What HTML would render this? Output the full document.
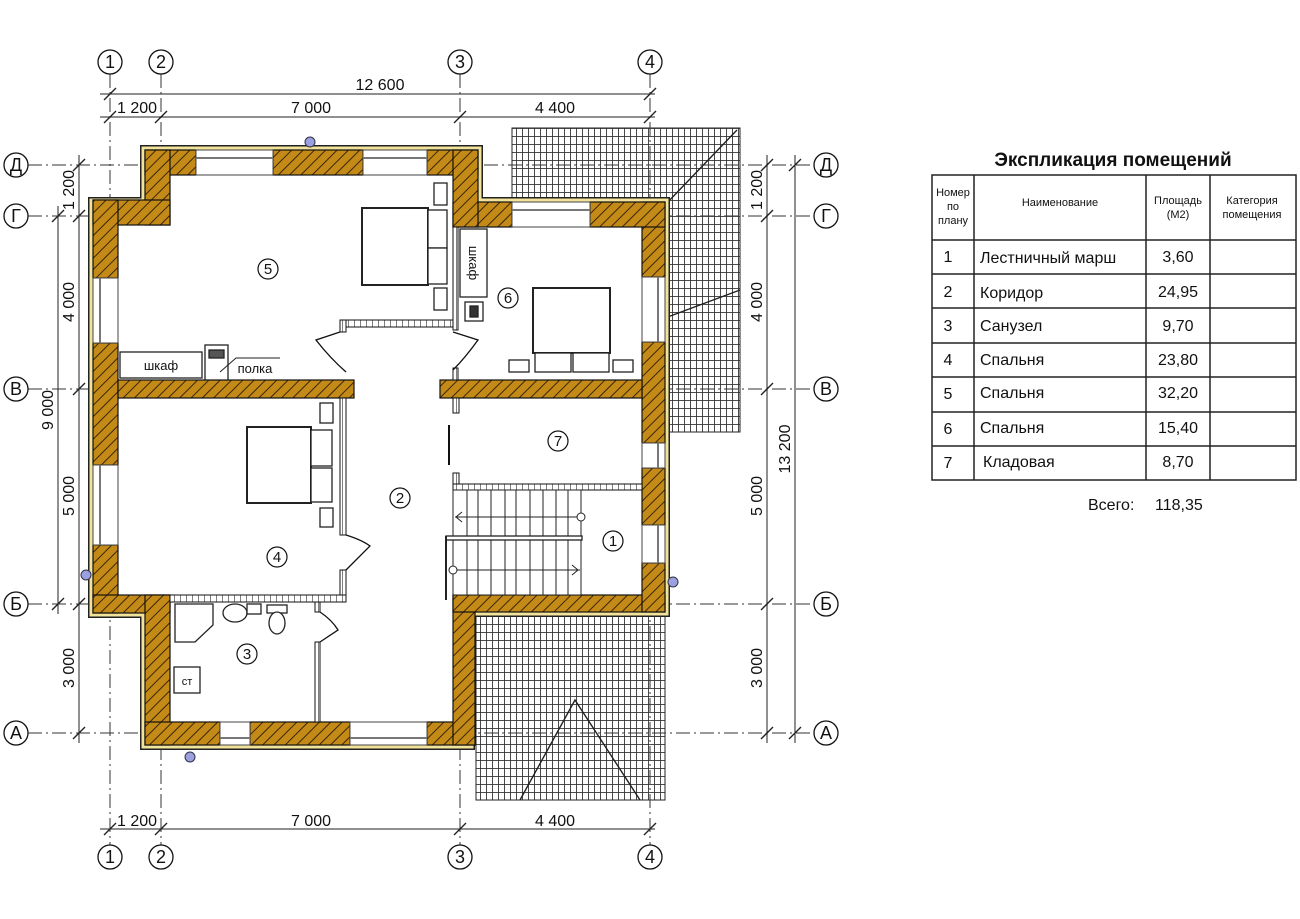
<!DOCTYPE html>
<html><head><meta charset="utf-8"><style>
html,body{margin:0;padding:0;background:#fff}
svg{display:block}
text{font-family:"Liberation Sans",sans-serif;fill:#111}
</style></head><body>
<svg width="1300" height="919" viewBox="0 0 1300 919" xmlns="http://www.w3.org/2000/svg">
<defs>
<pattern id="h" width="8" height="8" patternUnits="userSpaceOnUse" patternTransform="rotate(45)">
<rect width="8" height="8" fill="#c48a17"/><line x1="0" y1="0" x2="0" y2="8" stroke="#2a1a05" stroke-width="1.8"/>
</pattern>
<pattern id="t" width="6" height="8" patternUnits="userSpaceOnUse">
<rect width="6" height="8" fill="#fff"/><path d="M0 0H6M0 0V8" stroke="#333" stroke-width="1.8" fill="none"/>
</pattern>
<pattern id="tp" width="6" height="6" patternUnits="userSpaceOnUse">
<rect width="6" height="6" fill="#fff"/><path d="M0 0V6" stroke="#555" stroke-width="1.5"/>
</pattern>
</defs>

<!-- roof tiles -->
<g stroke="#222" stroke-width="1">
<polygon points="512,128 740,128 740,432 665,432 665,202 512,202" fill="url(#t)"/>
<rect x="476" y="612" width="189" height="188" fill="url(#t)"/>
</g>
<g stroke="#222" stroke-width="1.4" fill="none">
<line x1="737" y1="130" x2="665" y2="205"/>
<line x1="740" y1="290" x2="665" y2="318"/>
<polyline points="520,800 575,700 640,800"/>
</g>

<!-- axes -->
<g stroke="#333" stroke-width="1" stroke-dasharray="14 4 2 4" fill="none">
<line x1="110" y1="74" x2="110" y2="845"/>
<line x1="161" y1="74" x2="161" y2="845"/>
<line x1="460" y1="74" x2="460" y2="845"/>
<line x1="650" y1="74" x2="650" y2="845"/>
<line x1="28" y1="165" x2="814" y2="165"/>
<line x1="28" y1="216" x2="814" y2="216"/>
<line x1="28" y1="389" x2="814" y2="389"/>
<line x1="28" y1="604" x2="814" y2="604"/>
<line x1="28" y1="733" x2="814" y2="733"/>
</g>
<g fill="#fff" stroke="#111" stroke-width="1.3">
<circle cx="110" cy="62" r="12"/><circle cx="161" cy="62" r="12"/><circle cx="460" cy="62" r="12"/><circle cx="650" cy="62" r="12"/>
<circle cx="110" cy="857" r="12"/><circle cx="161" cy="857" r="12"/><circle cx="460" cy="857" r="12"/><circle cx="650" cy="857" r="12"/>
<circle cx="16" cy="165" r="12"/><circle cx="16" cy="216" r="12"/><circle cx="16" cy="389" r="12"/><circle cx="16" cy="604" r="12"/><circle cx="16" cy="733" r="12"/>
<circle cx="826" cy="165" r="12"/><circle cx="826" cy="216" r="12"/><circle cx="826" cy="389" r="12"/><circle cx="826" cy="604" r="12"/><circle cx="826" cy="733" r="12"/>
</g>
<g font-size="18" text-anchor="middle">
<text x="110" y="68">1</text><text x="161" y="68">2</text><text x="460" y="68">3</text><text x="650" y="68">4</text>
<text x="110" y="863">1</text><text x="161" y="863">2</text><text x="460" y="863">3</text><text x="650" y="863">4</text>
<text x="16" y="171">Д</text><text x="16" y="222">Г</text><text x="16" y="395">В</text><text x="16" y="610">Б</text><text x="16" y="739">А</text>
<text x="826" y="171">Д</text><text x="826" y="222">Г</text><text x="826" y="395">В</text><text x="826" y="610">Б</text><text x="826" y="739">А</text>
</g>

<!-- dimension lines -->
<g stroke="#222" stroke-width="1" fill="none">
<line x1="100" y1="94" x2="655" y2="94"/>
<line x1="100" y1="117" x2="655" y2="117"/>
<line x1="100" y1="829" x2="655" y2="829"/>
<line x1="79" y1="155" x2="79" y2="743"/>
<line x1="58" y1="206" x2="58" y2="614"/>
<line x1="767" y1="155" x2="767" y2="743"/>
<line x1="795" y1="155" x2="795" y2="743"/>
<g stroke-width="1.4">
<path d="M104 100l12-12M644 100l12-12M104 123l12-12M155 123l12-12M454 123l12-12M644 123l12-12"/>
<path d="M104 835l12-12M155 835l12-12M454 835l12-12M644 835l12-12"/>
<path d="M73 171l12-12M73 222l12-12M73 395l12-12M73 610l12-12M73 739l12-12"/>
<path d="M52 222l12-12M52 610l12-12"/>
<path d="M761 171l12-12M761 222l12-12M761 395l12-12M761 610l12-12M761 739l12-12"/>
<path d="M789 171l12-12M789 739l12-12"/>
</g>
</g>
<g font-size="16" text-anchor="middle">
<text x="380" y="90">12 600</text>
<text x="137" y="113">1 200</text><text x="311" y="113">7 000</text><text x="555" y="113">4 400</text>
<text x="137" y="826">1 200</text><text x="311" y="826">7 000</text><text x="555" y="826">4 400</text>
<text transform="translate(74,190) rotate(-90)">1 200</text>
<text transform="translate(74,302) rotate(-90)">4 000</text>
<text transform="translate(74,496) rotate(-90)">5 000</text>
<text transform="translate(74,668) rotate(-90)">3 000</text>
<text transform="translate(53,410) rotate(-90)">9 000</text>
<text transform="translate(762,190) rotate(-90)">1 200</text>
<text transform="translate(762,302) rotate(-90)">4 000</text>
<text transform="translate(762,496) rotate(-90)">5 000</text>
<text transform="translate(762,668) rotate(-90)">3 000</text>
<text transform="translate(790,449) rotate(-90)">13 200</text>
</g>

<!-- outer insulation -->
<polygon points="145,150 478,150 478,202 665,202 665,612 470,612 470,745 145,745 145,613 93,613 93,202 145,202" fill="none" stroke="#222" stroke-width="10" stroke-linejoin="miter"/>
<polygon points="145,150 478,150 478,202 665,202 665,612 470,612 470,745 145,745 145,613 93,613 93,202 145,202" fill="none" stroke="#f2e39b" stroke-width="7"/>
<!-- floor -->
<polygon points="170,175 453,175 453,227 642,227 642,595 453,595 453,722 170,722 170,595 118,595 118,225 170,225" fill="#fff"/>

<!-- walls -->
<g fill="url(#h)" stroke="#111" stroke-width="1.2">
<rect x="145" y="150" width="51" height="25"/><rect x="273" y="150" width="90" height="25"/><rect x="427" y="150" width="51" height="25"/>
<rect x="145" y="150" width="25" height="75"/>
<rect x="93" y="200" width="77" height="25"/>
<rect x="93" y="200" width="25" height="78"/><rect x="93" y="343" width="25" height="122"/><rect x="93" y="545" width="25" height="68"/>
<rect x="93" y="595" width="77" height="18"/>
<rect x="145" y="595" width="25" height="150"/>
<rect x="145" y="722" width="75" height="23"/><rect x="250" y="722" width="100" height="23"/><rect x="427" y="722" width="48" height="23"/>
<rect x="453" y="595" width="22" height="150"/>
<rect x="453" y="595" width="212" height="17"/>
<rect x="642" y="202" width="23" height="75"/><rect x="642" y="342" width="23" height="101"/><rect x="642" y="468" width="23" height="57"/><rect x="642" y="563" width="23" height="49"/>
<rect x="453" y="202" width="59" height="25"/><rect x="590" y="202" width="75" height="25"/>
<rect x="453" y="150" width="25" height="77"/>
<rect x="118" y="380" width="236" height="18"/><rect x="440" y="380" width="202" height="18"/>
</g>
<!-- windows -->
<g fill="#fff" stroke="#444" stroke-width="1">
<rect x="196" y="150" width="77" height="25"/><rect x="363" y="150" width="64" height="25"/>
<rect x="512" y="202" width="78" height="25"/>
<rect x="93" y="278" width="25" height="65"/><rect x="93" y="465" width="25" height="80"/>
<rect x="642" y="277" width="23" height="65"/><rect x="642" y="443" width="23" height="25"/><rect x="642" y="525" width="23" height="38"/>
<rect x="220" y="722" width="30" height="23"/><rect x="350" y="722" width="77" height="23"/>
</g>
<g stroke="#777" stroke-width="2">
<line x1="196" y1="158" x2="273" y2="158"/><line x1="363" y1="158" x2="427" y2="158"/>
<line x1="512" y1="210" x2="590" y2="210"/>
<line x1="100" y1="278" x2="100" y2="343"/><line x1="100" y1="465" x2="100" y2="545"/>
<line x1="658" y1="277" x2="658" y2="342"/><line x1="658" y1="443" x2="658" y2="468"/><line x1="658" y1="525" x2="658" y2="563"/>
<line x1="220" y1="738" x2="250" y2="738"/><line x1="350" y1="738" x2="427" y2="738"/>
</g>

<!-- thin partitions -->
<g fill="url(#tp)" stroke="#111" stroke-width="1">
<rect x="340" y="320" width="113" height="7"/>
<rect x="340" y="320" width="6" height="12"/>
<rect x="340" y="398" width="6" height="137"/><rect x="340" y="570" width="6" height="27"/>
<rect x="170" y="595" width="176" height="7"/>
<rect x="315" y="602" width="5" height="10"/><rect x="315" y="642" width="5" height="80"/>
<rect x="453" y="227" width="5" height="103"/><rect x="453" y="368" width="5" height="12"/>
<rect x="453" y="398" width="6" height="15"/><rect x="453" y="473" width="6" height="15"/>
<rect x="453" y="484" width="189" height="6"/>
</g>
<g fill="none" stroke="#111" stroke-width="1.3">
<path d="M340 332 L316 340 Q330 358 346 372 M453 332 L478 340 Q465 358 453 370"/>
<path d="M346 535 Q362 540 370 546 L346 570"/>
<path d="M320 612 Q332 620 338 630 L320 642"/>
<line x1="449" y1="425" x2="449" y2="465" stroke-width="2"/>
</g>

<!-- stairs -->
<g stroke="#222" stroke-width="1" fill="none">
<rect x="453" y="490" width="128" height="105" fill="#fff"/>
<path d="M467 490V595M478 490V595M491 490V595M505 490V595M516 490V595M530 490V595M543 490V595M556 490V595M568 490V595"/>
<rect x="446" y="536" width="136" height="4" fill="#fff" stroke-width="1.3"/>
<line x1="446" y1="536" x2="446" y2="600" stroke-width="2"/>
<line x1="455" y1="517" x2="580" y2="517"/><circle cx="581" cy="517" r="4" fill="#fff"/><path d="M462 512l-6 5 6 5"/>
<line x1="455" y1="570" x2="580" y2="570"/><circle cx="453" cy="570" r="4" fill="#fff"/><path d="M572 565l6 5-6 5"/>
</g>

<!-- furniture -->
<g fill="#fff" stroke="#222" stroke-width="1.3">
<rect x="362" y="208" width="66" height="77" stroke-width="2"/>
<rect x="428" y="210" width="19" height="38"/><rect x="428" y="248" width="19" height="36"/>
<rect x="434" y="183" width="13" height="22"/><rect x="434" y="288" width="13" height="22"/>
<rect x="120" y="352" width="82" height="26"/>
<rect x="205" y="345" width="23" height="35"/><rect x="209" y="350" width="15" height="8" fill="#555"/>
<rect x="460" y="229" width="27" height="68"/>
<rect x="465" y="302" width="18" height="19"/><rect x="470" y="306" width="8" height="11" fill="#333"/>
<rect x="533" y="288" width="77" height="65" stroke-width="2"/>
<rect x="535" y="353" width="36" height="19"/><rect x="573" y="353" width="36" height="19"/>
<rect x="509" y="360" width="20" height="12"/><rect x="613" y="360" width="20" height="12"/>
<rect x="247" y="427" width="64" height="76" stroke-width="2"/>
<rect x="311" y="430" width="21" height="36"/><rect x="311" y="468" width="21" height="34"/>
<rect x="320" y="403" width="13" height="20"/><rect x="320" y="508" width="13" height="19"/>
<path d="M175 604H213V625L195 642H175Z"/>
<ellipse cx="235" cy="613" rx="12" ry="9"/><rect x="247" y="604" width="14" height="10"/>
<rect x="267" y="605" width="20" height="8"/><ellipse cx="277" cy="623" rx="8" ry="11"/>
<rect x="174" y="667" width="26" height="26"/>
</g>
<path d="M220 372 L236 358 H280" stroke="#222" fill="none"/>
<g font-size="13" text-anchor="middle">
<text x="161" y="370">шкаф</text>
<text x="255" y="373">полка</text>
<text transform="translate(469,263) rotate(90)">шкаф</text>
<text x="187" y="685" font-size="11">ст</text>
</g>
<!-- snowflakes -->
<g fill="#9aa0e0" stroke="#334" stroke-width="1">
<circle cx="310" cy="142" r="5"/><circle cx="86" cy="575" r="5"/><circle cx="673" cy="582" r="5"/><circle cx="190" cy="757" r="5"/>
</g>
<!-- room numbers -->
<g fill="#fff" stroke="#111" stroke-width="1.2">
<circle cx="268" cy="269" r="10"/><circle cx="508" cy="298" r="10"/><circle cx="558" cy="441" r="10"/>
<circle cx="400" cy="498" r="10"/><circle cx="613" cy="541" r="10"/><circle cx="277" cy="557" r="10"/><circle cx="247" cy="654" r="10"/>
</g>
<g font-size="15" text-anchor="middle">
<text x="268" y="274">5</text><text x="508" y="303">6</text><text x="558" y="446">7</text>
<text x="400" y="503">2</text><text x="613" y="546">1</text><text x="277" y="562">4</text><text x="247" y="659">3</text>
</g>

<!-- table -->
<text x="1113" y="166" font-size="19" font-weight="bold" text-anchor="middle">Экспликация помещений</text>
<g stroke="#222" stroke-width="1.5" fill="none">
<rect x="932" y="175" width="364" height="305"/>
<line x1="974" y1="175" x2="974" y2="480"/><line x1="1146" y1="175" x2="1146" y2="480"/><line x1="1210" y1="175" x2="1210" y2="480"/>
<path d="M932 240H1296M932 274H1296M932 308H1296M932 343H1296M932 377H1296M932 412H1296M932 446H1296"/>
</g>
<g font-size="11" text-anchor="middle">
<text x="953" y="196">Номер</text><text x="953" y="210">по</text><text x="953" y="224">плану</text>
<text x="1060" y="206">Наименование</text>
<text x="1178" y="204">Площадь</text><text x="1178" y="218">(М2)</text>
<text x="1252" y="204">Категория</text><text x="1252" y="218">помещения</text>
</g>
<g font-size="16">
<text x="948" y="262" text-anchor="middle">1</text><text x="980" y="263">Лестничный марш</text><text x="1178" y="262" text-anchor="middle">3,60</text>
<text x="948" y="297" text-anchor="middle">2</text><text x="980" y="298">Коридор</text><text x="1178" y="297" text-anchor="middle">24,95</text>
<text x="948" y="331" text-anchor="middle">3</text><text x="980" y="331">Санузел</text><text x="1178" y="331" text-anchor="middle">9,70</text>
<text x="948" y="365" text-anchor="middle">4</text><text x="980" y="365">Спальня</text><text x="1178" y="365" text-anchor="middle">23,80</text>
<text x="948" y="399" text-anchor="middle">5</text><text x="980" y="398">Спальня</text><text x="1178" y="398" text-anchor="middle">32,20</text>
<text x="948" y="434" text-anchor="middle">6</text><text x="980" y="433">Спальня</text><text x="1178" y="433" text-anchor="middle">15,40</text>
<text x="948" y="468" text-anchor="middle">7</text><text x="983" y="467">Кладовая</text><text x="1178" y="467" text-anchor="middle">8,70</text>
</g>
<text x="1088" y="510" font-size="16">Всего:</text>
<text x="1155" y="510" font-size="16">118,35</text>
</svg>
</body></html>
